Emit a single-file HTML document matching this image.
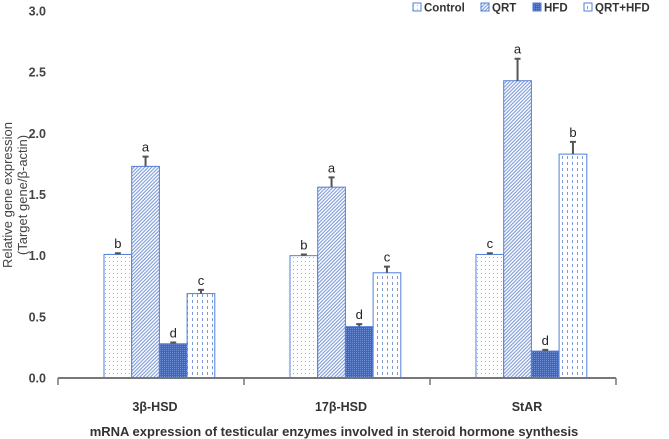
<!DOCTYPE html>
<html><head><meta charset="utf-8"><style>
body{margin:0;background:#fff;}
svg{display:block;font-family:"Liberation Sans",sans-serif;}
</style></head><body>
<svg id="chart" width="669" height="439" viewBox="0 0 669 439">
<defs>
<pattern id="pCtrl" width="4" height="4" patternUnits="userSpaceOnUse"><rect width="4" height="4" fill="#fff"/><rect x="1" y="1" width="1" height="1" fill="#9db4e6"/></pattern>
<pattern id="pQrt" width="2.5" height="2.5" patternUnits="userSpaceOnUse" patternTransform="rotate(45)"><rect width="2.5" height="2.5" fill="#fff"/><rect width="1.1" height="2.5" fill="#7d9ad8"/></pattern>
<pattern id="pHfd" width="2" height="2" patternUnits="userSpaceOnUse"><rect width="2" height="2" fill="#3c66c0"/><rect width="1" height="1" fill="#6e8fd6"/></pattern>
<pattern id="pQh" width="5" height="6" patternUnits="userSpaceOnUse"><rect width="5" height="6" fill="#fff"/><rect x="2" y="0" width="1" height="3" fill="#7d9ad8"/></pattern>
</defs>
<g id="plot"></g>
</svg>
<script>
const categories=["3β-HSD","17β-HSD","StAR"];
const seriesNames=["Control","QRT","HFD","QRT+HFD"];
const control=[1.01,1.00,1.01];
const qrt=[1.73,1.56,2.43];
const hfd=[0.28,0.42,0.22];
const qrtHfd=[0.69,0.86,1.83];
const errControl=[0.01,0.01,0.01];
const errQrt=[0.08,0.08,0.18];
const errHfd=[0.01,0.02,0.01];
const errQrtHfd=[0.03,0.05,0.10];
const letControl=["b","b","c"];
const letQrt=["a","a","a"];
const letHfd=["d","d","d"];
const letQrtHfd=["c","c","b"];
const yTicks=[0,0.5,1,1.5,2,2.5,3];
const yTickLabels=["0.0","0.5","1.0","1.5","2.0","2.5","3.0"];

const NS="http://www.w3.org/2000/svg";
const g=document.getElementById('plot');
const x0=58,groupW=186,y0=378,yTop=11,yMax=3;
const yS=v=>y0-(v/yMax)*(y0-yTop);
const gx=i=>x0+i*groupW;
function mk(tag,attrs,text){const e=document.createElementNS(NS,tag);for(const k in attrs)e.setAttribute(k,attrs[k]);if(text!==undefined)e.textContent=text;g.appendChild(e);return e;}

yTicks.forEach((t,i)=>{
  const e=mk('text',{x:46,y:yS(t)+4.5,'text-anchor':'end','font-size':12.5,'font-weight':'bold',fill:'#444'},yTickLabels[i]);
  
  
});
const yt=mk('text',{transform:'translate(12,195) rotate(-90)','text-anchor':'middle','font-size':13,fill:'#444'});


yt.innerHTML='<tspan x="0" dy="0">Relative gene expression</tspan><tspan x="0" dy="15">(Target gene/β-actin)</tspan>';

const series=[[control,errControl,letControl,'url(#pCtrl)'],[qrt,errQrt,letQrt,'url(#pQrt)'],[hfd,errHfd,letHfd,'url(#pHfd)'],[qrtHfd,errQrtHfd,letQrtHfd,'url(#pQh)']];
const bw=27.7;
categories.forEach((c,ci)=>{
  series.forEach((s,si)=>{
    const v=s[0][ci],er=s[1][ci];
    const bx=gx(ci)+46+si*bw;
    const r=mk('rect',{x:bx,y:yS(v),width:bw,height:y0-yS(v),fill:s[3],stroke:'#4f7fdb','stroke-width':1});
    
    
    const cx=bx+bw/2;
    const eb=mk('path',{d:`M${cx},${yS(v)} V${yS(v+er)} M${cx-3},${yS(v+er)} H${cx+3}`,stroke:'#555','stroke-width':2,fill:'none'});
    
    
    const lt=mk('text',{x:cx,y:yS(v+er)-5,'text-anchor':'middle','font-size':13,fill:'#222'},s[2][ci]);
    
    
  });
  const cl=mk('text',{x:gx(ci)+groupW/2+4,y:411,'text-anchor':'middle','font-size':12.5,'font-weight':'bold',fill:'#333'},c);
  
  
});
const ax=mk('line',{x1:x0,y1:y0,x2:x0+3*groupW,y2:y0,stroke:'#777','stroke-width':2});


for(let i=0;i<=3;i++){
  const tk=mk('line',{x1:gx(i),y1:y0,x2:gx(i),y2:y0+7,stroke:'#777','stroke-width':1.5});
  
  
}
const xt=mk('text',{x:334,y:436,'text-anchor':'middle','font-size':13,'font-weight':'bold',fill:'#333'},'mRNA expression of testicular enzymes involved in steroid hormone synthesis');



const legX=[413,481,533,584];
seriesNames.forEach((n,i)=>{
  const r=mk('rect',{x:legX[i],y:3,width:8,height:8,fill:series[i][3],stroke:'#4f7fdb','stroke-width':1});
  
  
  const t=mk('text',{x:legX[i]+11,y:11.5,'font-size':11.5,'font-weight':'bold',fill:'#333'},n);
  
  
});
</script>
</body></html>
